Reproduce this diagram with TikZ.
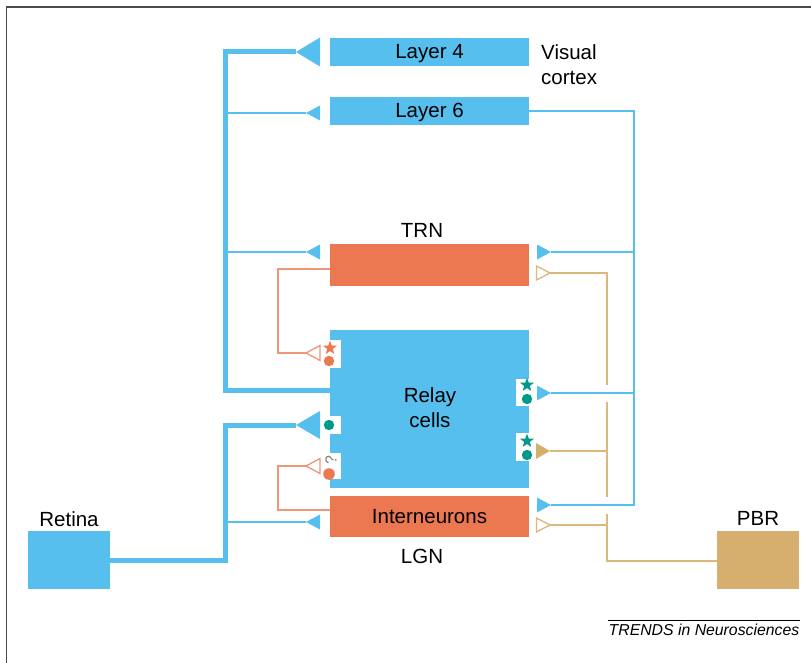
\documentclass[tikz,border=0pt]{standalone}
\usepackage{fontspec}
\setmainfont{Liberation Sans}
\usetikzlibrary{shapes.geometric}
\definecolor{cblue}{HTML}{56BFEE}
\definecolor{corange}{HTML}{EC7851}
\definecolor{corline}{HTML}{EF9678}
\definecolor{ctan}{HTML}{D6AF6E}
\definecolor{ctanline}{HTML}{DDB77E}
\definecolor{cgreen}{HTML}{00998A}
\definecolor{cframe}{HTML}{4A4A4A}
\tikzset{
  box/.style={draw=none, inner sep=0pt, outer sep=0pt},
  bluebox/.style={box, fill=cblue},
  orbox/.style={box, fill=corange},
  tanbox/.style={box, fill=ctan},
  lbl/.style={font=\fontsize{20.5}{25}\selectfont, inner sep=0pt},
  thickax/.style={draw=cblue, line width=5pt},
  thinax/.style={draw=cblue, line width=1.4pt},
  tanax/.style={draw=ctanline, line width=1.4pt},
  orax/.style={draw=corline, line width=1.4pt},
  notch/.style={fill=white, draw=none},
  stargl/.style={star, star points=5, star point ratio=2.4, minimum size=14.5pt, inner sep=0pt},
}
\begin{document}
\begin{tikzpicture}[x=1pt, y=-1pt]
\useasboundingbox (0,0) rectangle (811,663);
% frame
\draw[cframe, line width=1.6pt] (6.5,663) -- (6.5,7) -- (811,7);

% boxes
\node[bluebox, minimum width=199pt, minimum height=28pt] (l4) at (429.5,52.5) {};
\node[lbl] (l4t) at (429.5,53.5) {Layer 4};
\node[bluebox, minimum width=199pt, minimum height=28pt] (l6) at (429.5,111) {};
\node[lbl] (l6t) at (429.5,112) {Layer 6};
\node[lbl, anchor=west, align=left] (vc) at (541,65) {Visual\\cortex};
\node[orbox, minimum width=199pt, minimum height=42pt] (trn) at (429.5,265) {};
\node[lbl] (trnt) at (422,230) {TRN};
\node[bluebox, minimum width=199pt, minimum height=158pt] (relay) at (429.5,409) {};
\node[lbl, align=center] (relayt) at (430,408) {Relay\\cells};
\node[orbox, minimum width=199pt, minimum height=41pt] (inter) at (429.5,516) {};
\node[lbl] (intert) at (429.5,517) {Interneurons};
\node[lbl] (lgn) at (422,556) {LGN};
\node[bluebox, minimum width=82pt, minimum height=58pt] (retina) at (69,560) {};
\node[lbl] (retinat) at (69,519) {Retina};
\node[tanbox, minimum width=82pt, minimum height=58pt] (pbr) at (758,560) {};
\node[lbl] (pbrt) at (758,518) {PBR};

% notches on relay cells
\fill[notch] (330,340) rectangle (341,368);
\fill[notch] (330,416) rectangle (341,434);
\fill[notch] (330,453) rectangle (341,479);
\fill[notch] (516,379) rectangle (529,406);
\fill[notch] (516,433) rectangle (529,461);

% coordinates
\coordinate (l4tip) at (296,52);
\coordinate (rettip) at (296,425);
\coordinate (l6tip) at (306,113);
\coordinate (trntip) at (306,252);
\coordinate (intip) at (306,522);
\coordinate (fb1tip) at (306,353);
\coordinate (fb2tip) at (306,466);
\coordinate (rtrn) at (551,252);
\coordinate (rrel) at (551,393);
\coordinate (rint) at (551,505);
\coordinate (ttrn) at (550,273);
\coordinate (trel) at (550,451);
\coordinate (tint) at (550,525);
\coordinate (vb) at (634,111);
\coordinate (vt) at (607,561);

% thick axons
\draw[thickax] (relay.west |- 0,390) -- (225,390) -- (225,52) -- (l4tip);
\fill[cblue] (l4tip) -- (320,37.5) -- (320,66.5) -- cycle;
\draw[thickax] (retina.east |- 0,560) -- (225,560) -- (225,425) -- (rettip);
\fill[cblue] (rettip) -- (320,411) -- (320,439) -- cycle;

% thin blue, left side
\draw[thinax] (225,113) -- (l6tip);
\draw[thinax] (225,252) -- (trntip);
\draw[thinax] (225,522) -- (intip);
\foreach \t in {l6tip,trntip,intip}
  \fill[cblue] (\t) -- ++(14,-7.5) -- ++(0,15) -- cycle;

% thin blue, right side (layer 6 feedback)
\draw[thinax] (l6.east) -- (vb) -- (vb |- rint) -- (rint);
\draw[thinax] (vb |- rtrn) -- (rtrn);
\draw[thinax] (vb |- rrel) -- (rrel);
\foreach \t in {rtrn,rrel,rint}
  \fill[cblue] (\t) -- ++(-14,-7.5) -- ++(0,15) -- cycle;

% tan (PBR)
\draw[tanax] (pbr.west |- vt) -- (vt) -- (607,514);
\draw[tanax] (607,497) -- (607,402);
\draw[tanax] (607,385) -- (607,273) -- (ttrn);
\draw[tanax] (607,451) -- (trel);
\draw[tanax] (607,525) -- (tint);
\foreach \t in {ttrn,tint}
  \draw[ctanline, line width=1.3pt, fill=white] (\t) -- ++(-13.5,-7) -- ++(0,14) -- cycle;
\fill[ctan] (trel) -- ++(-14,-8) -- ++(0,16) -- cycle;

% orange feedback
\draw[orax] (trn.west |- 0,269) -- (278,269) -- (278,353) -- (fb1tip);
\draw[orax] (inter.west |- 0,510) -- (278,510) -- (278,466) -- (fb2tip);
\foreach \t in {fb1tip,fb2tip}
  \draw[corline, line width=1.3pt, fill=white] (\t) -- ++(14,-7.5) -- ++(0,15) -- cycle;

% symbols
\node[stargl, fill=corange] (s1) at (330,348) {};
\fill[corange] (329,361) circle (5.2);
\fill[cgreen] (329,425) circle (5.2);
\node[inner sep=0pt, text=gray, rotate=90, font=\fontsize{16}{16}\selectfont] (q) at (331,460) {?};
\fill[corange] (329,474) circle (5.8);
\node[stargl, fill=cgreen] (s2) at (527,385) {};
\fill[cgreen] (527,399) circle (5.2);
\node[stargl, fill=cgreen] (s3) at (527,441) {};
\fill[cgreen] (527,455) circle (5.2);

% caption
\draw[black, line width=0.9pt] (608,620) -- (800,620);
\node[inner sep=0pt, font=\fontsize{15.8}{18}\selectfont\itshape] (cap) at (704,630) {TRENDS in Neurosciences};
\end{tikzpicture}
\end{document}
